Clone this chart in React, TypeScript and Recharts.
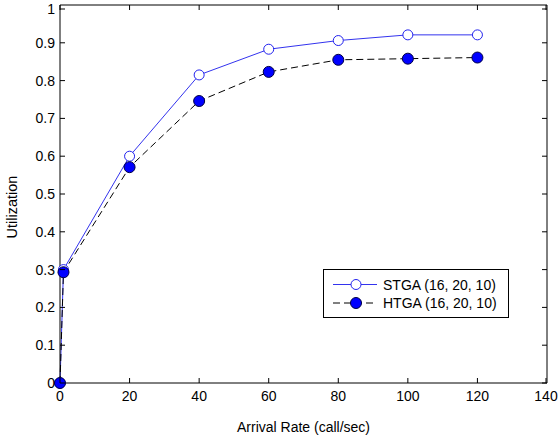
import React from 'react'
import { LineChart, Line, XAxis, YAxis } from 'recharts'

const arrivalRate = [0, 1, 20, 40, 60, 80, 100, 120]
const stga = [0, 0.3, 0.6, 0.815, 0.883, 0.906, 0.921, 0.921]
const htga = [0, 0.293, 0.571, 0.746, 0.823, 0.855, 0.858, 0.861]

const xTicks = [0, 20, 40, 60, 80, 100, 120, 140]
const yTicks = [0, 0.1, 0.2, 0.3, 0.4, 0.5, 0.6, 0.7, 0.8, 0.9, 1]

const data = arrivalRate.map((rate, i) => ({ rate, stga: stga[i], htga: htga[i] }))

const FONT = '"Liberation Sans", Arial, sans-serif'
const TICK = 5
const BLUE_LINE = '#3333ee'
const DASH = '7 4'

// matlab-style ticks: marks point into the plot box
const BottomTick = (props: any) => {
  const { x, y, payload } = props
  return (
    <g>
      <line x1={x} y1={y} x2={x} y2={y - TICK} stroke="#000" />
      <text x={x} y={y + 18} textAnchor="middle" fontSize={14} fontFamily={FONT} fill="#000">
        {payload.value}
      </text>
    </g>
  )
}

const LeftTick = (props: any) => {
  const { x, y, payload } = props
  return (
    <g>
      <line x1={x} y1={y} x2={x + TICK} y2={y} stroke="#000" />
      <text x={x - 5} y={y + 5} textAnchor="end" fontSize={14} fontFamily={FONT} fill="#000">
        {payload.value}
      </text>
    </g>
  )
}

// frame axes have a 1px band, so the tick starts from the inner edge
const TopTick = (props: any) => {
  const { x, y } = props
  return <line x1={x} y1={y} x2={x} y2={y + TICK} stroke="#000" />
}

const RightTick = (props: any) => {
  const { x, y } = props
  return <line x1={x} y1={y} x2={x - TICK} y2={y} stroke="#000" />
}

const OpenDot = (props: any) => {
  const { cx, cy } = props
  return <circle cx={cx} cy={cy} r={5} fill="#fff" stroke="#2222ee" strokeWidth={1} />
}

const FilledDot = (props: any) => {
  const { cx, cy } = props
  return <circle cx={cx} cy={cy} r={5.5} fill="#0000ff" stroke="#000044" strokeWidth={1} />
}

const legendItems = [
  { label: 'STGA (16, 20, 10)', dash: undefined, color: BLUE_LINE, filled: false },
  { label: 'HTGA (16, 20, 10)', dash: DASH, color: '#000', filled: true },
]

const LegendBox = () => (
  <svg width={186} height={49} style={{ display: 'block' }}>
    <rect x={0.5} y={0.5} width={185} height={48} fill="#fff" stroke="#000" />
    {legendItems.map((it, i) => {
      const cy = 15.5 + i * 18.5
      return (
        <g key={it.label}>
          <line x1={10} y1={cy} x2={54} y2={cy} stroke={it.color} strokeDasharray={it.dash} />
          {it.filled ? (
            <circle cx={33} cy={cy} r={5.5} fill="#0000ff" stroke="#000044" />
          ) : (
            <circle cx={33} cy={cy} r={5} fill="#fff" stroke="#2222ee" />
          )}
          <text x={60} y={cy + 5} fontSize={14} fontFamily={FONT} fill="#000">
            {it.label}
          </text>
        </g>
      )
    })}
  </svg>
)

export default function App() {
  return (
    <div style={{ position: 'absolute', top: 0, left: 0, width: 558, height: 435, background: '#fff' }}>
      <LineChart width={558} height={435} data={data} margin={{ top: 4, right: 10, left: 0, bottom: 0 }}>
        <XAxis
          dataKey="rate"
          type="number"
          domain={[0, 140]}
          ticks={xTicks}
          height={52}
          tickSize={0}
          tickMargin={0}
          tickLine={false}
          axisLine={{ stroke: '#000' }}
          tick={<BottomTick />}
          label={{ value: 'Arrival Rate (call/sec)', position: 'insideBottom', offset: 3, fontSize: 14, fontFamily: FONT, fill: '#000' }}
        />
        <XAxis
          xAxisId="top"
          orientation="top"
          dataKey="rate"
          type="number"
          domain={[0, 140]}
          ticks={xTicks}
          height={1}
          tickSize={0}
          tickMargin={0}
          tickLine={false}
          axisLine={{ stroke: '#000' }}
          tick={<TopTick />}
        />
        <YAxis
          type="number"
          domain={[0, 1]}
          ticks={yTicks}
          width={60}
          tickSize={0}
          tickMargin={0}
          tickLine={false}
          axisLine={{ stroke: '#000' }}
          tick={<LeftTick />}
          label={{ value: 'Utilization', angle: -90, position: 'insideLeft', offset: 12, dy: 13, fontSize: 14.5, fontFamily: FONT, fill: '#000', textAnchor: 'middle' }}
        />
        <YAxis
          yAxisId="right"
          orientation="right"
          type="number"
          domain={[0, 1]}
          ticks={yTicks}
          width={1}
          tickSize={0}
          tickMargin={0}
          tickLine={false}
          axisLine={{ stroke: '#000' }}
          tick={<RightTick />}
        />
        <Line
          dataKey="stga"
          stroke={BLUE_LINE}
          strokeWidth={1}
          dot={<OpenDot />}
          activeDot={false}
          isAnimationActive={false}
        />
        {/* same domains as the bottom/left axes, so the top/right frame axes get drawn */}
        <Line
          dataKey="htga"
          xAxisId="top"
          yAxisId="right"
          stroke="#000"
          strokeWidth={1}
          strokeDasharray={DASH}
          dot={<FilledDot />}
          activeDot={false}
          isAnimationActive={false}
        />
      </LineChart>
      <div style={{ position: 'absolute', left: 323, top: 269 }}>
        <LegendBox />
      </div>
    </div>
  )
}
